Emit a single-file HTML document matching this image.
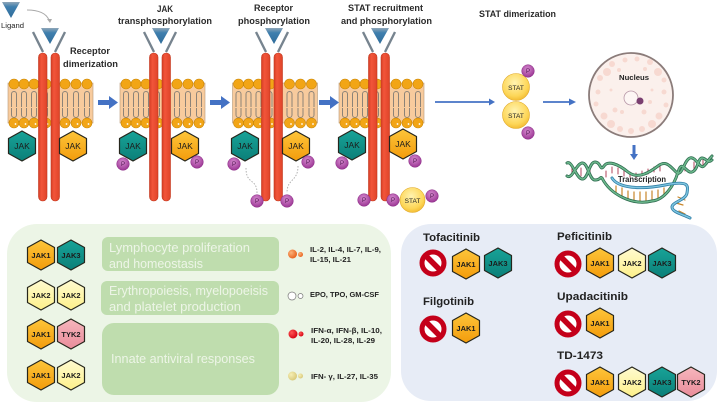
<!DOCTYPE html>
<html><head><meta charset="utf-8">
<style>
html,body{margin:0;padding:0;background:#fff}
svg{display:block;filter:blur(.35px)}
text{font-family:"Liberation Sans",sans-serif;fill:#222}
.b{font-weight:bold}
.t{font-weight:bold;font-size:9px;fill:#2b2b2b}
.h{font-size:7.500px;font-weight:bold;text-anchor:middle;fill:#1c1c1c}
.j{font-size:8.500px;text-anchor:middle;fill:#1c1c1c}
.c{font-weight:bold;font-size:7px;fill:#222}
.g{font-size:12.500px;fill:#edf5e7}
.d{font-weight:bold;font-size:11px;fill:#222}
.p{font-size:6px;text-anchor:middle;fill:#4d164d}
</style></head>
<body>
<svg xmlns="http://www.w3.org/2000/svg" width="719" height="404" viewBox="0 0 719 404">
<defs>
<linearGradient id="or" x1="0" y1="0" x2="0" y2="1"><stop offset="0" stop-color="#fdc53a"/><stop offset="1" stop-color="#f39c0c"/></linearGradient>
<linearGradient id="te" x1="0" y1="0" x2="0" y2="1"><stop offset="0" stop-color="#18a398"/><stop offset="1" stop-color="#0b7f78"/></linearGradient>
<linearGradient id="ye" x1="0" y1="0" x2="0" y2="1"><stop offset="0" stop-color="#fffbd0"/><stop offset="1" stop-color="#fdf08a"/></linearGradient>
<linearGradient id="pi" x1="0" y1="0" x2="0" y2="1"><stop offset="0" stop-color="#f6b6bd"/><stop offset="1" stop-color="#e98c9a"/></linearGradient>
<linearGradient id="lig" x1="0" y1="0" x2="0" y2="1"><stop offset="0" stop-color="#8fa6b8"/><stop offset="0.3" stop-color="#3f7fae"/><stop offset="1" stop-color="#2f6c9a"/></linearGradient>
<radialGradient id="st" cx=".45" cy=".35" r=".7"><stop offset="0" stop-color="#fff3b0"/><stop offset=".7" stop-color="#fdd657"/><stop offset="1" stop-color="#f0b52a"/></radialGradient>
<radialGradient id="pu" cx=".45" cy=".35" r=".7"><stop offset="0" stop-color="#d78ad0"/><stop offset="1" stop-color="#96308f"/></radialGradient>
<linearGradient id="pil" x1="0" y1="0" x2="1" y2="0"><stop offset="0" stop-color="#d63f26"/><stop offset=".35" stop-color="#f2553a"/><stop offset="1" stop-color="#df4429"/></linearGradient>
<radialGradient id="b1" cx=".35" cy=".35" r=".7"><stop offset="0" stop-color="#fbb27a"/><stop offset="1" stop-color="#e8601a"/></radialGradient>
<radialGradient id="b2" cx=".35" cy=".35" r=".7"><stop offset="0" stop-color="#f55"/><stop offset="1" stop-color="#d40010"/></radialGradient>
<radialGradient id="b3" cx=".35" cy=".35" r=".7"><stop offset="0" stop-color="#f6efb5"/><stop offset="1" stop-color="#d8c878"/></radialGradient>

<polygon id="hx" points="0,-15 13.500,-7.500 13.500,7.500 0,15 -13.500,7.500 -13.500,-7.500" stroke="#26261c" stroke-width="1.200" stroke-linejoin="round"/>
<g id="horange"><use href="#hx" fill="url(#or)"/></g>
<g id="hteal"><use href="#hx" fill="url(#te)"/></g>
<g id="hyellow"><use href="#hx" fill="url(#ye)"/></g>
<g id="hpink"><use href="#hx" fill="url(#pi)"/></g>

<g id="no"><circle r="11" fill="#fff" stroke="#c4001a" stroke-width="5"/><line x1="-8" y1="-8" x2="8" y2="8" stroke="#c4001a" stroke-width="5.500"/></g>
<circle id="pb" r="6.300" fill="url(#pu)" stroke="#8b2b86" stroke-width=".5"/>
<polygon id="lg" points="-9,0 9,0 0,16" fill="url(#lig)"/>

<g id="tail" fill="none" stroke="#8c8378" stroke-width="1">
<path d="M-2.500 107V94a2.500 2.500 0 0 1 5 0V107"/>
<path d="M-2.500 108V115a2.500 2.500 0 0 0 5 0V108"/>
</g>
<g id="head">
<circle cy="84" r="5" fill="#f2a516" stroke="#c98605" stroke-width=".6"/>
<circle cy="123" r="5" fill="#f2a516" stroke="#c98605" stroke-width=".6"/>
<circle cx="1.500" cy="124" r=".9" fill="#fff"/>
</g>
<g id="mem">
<rect x="8" y="83" width="85" height="40" fill="#f8cb9d" stroke="#b89a78" stroke-width=".6"/>
<use href="#tail" x="14"/><use href="#tail" x="24"/><use href="#tail" x="34"/><use href="#tail" x="45"/>
<use href="#tail" x="65"/><use href="#tail" x="76"/><use href="#tail" x="87"/>
<use href="#head" x="14"/><use href="#head" x="24"/><use href="#head" x="34"/><use href="#head" x="46"/>
<use href="#head" x="65"/><use href="#head" x="76"/><use href="#head" x="87"/>
</g>
<g id="rec">
<line x1="33" y1="32" x2="43" y2="52" stroke="#77848f" stroke-width="2.400"/>
<line x1="65" y1="32" x2="55" y2="52" stroke="#77848f" stroke-width="2.400"/>
<rect x="38.500" y="53" width="8.500" height="148" rx="4.200" fill="url(#pil)" stroke="#c2381f" stroke-width=".6"/>
<rect x="51" y="53" width="8.500" height="148" rx="4.200" fill="url(#pil)" stroke="#c2381f" stroke-width=".6"/>
</g>
<g id="chev" fill="#4472c4"><path d="M0 -2.500H11V-6.500L20 0L11 6.500V2.500H0Z"/></g>
</defs>

<rect width="719" height="404" fill="#fff"/>

<use href="#lg" x="11" y="2"/>
<text x="1" y="28" font-size="7" fill="#444" textLength="23" lengthAdjust="spacingAndGlyphs">Ligand</text>
<path d="M27 10C38 10 46 13 49 20" fill="none" stroke="#aaa" stroke-width="1"/>
<polygon points="47,19 52,19 50,23" fill="#aaa"/>

<use href="#mem"/><use href="#mem" x="112"/><use href="#mem" x="224.500"/><use href="#mem" x="331"/>
<use href="#rec"/><use href="#rec" x="111"/><use href="#rec" x="223"/><use href="#rec" x="330"/>
<use href="#lg" x="50" y="28"/><use href="#lg" x="161" y="28"/><use href="#lg" x="274" y="28"/><use href="#lg" x="380" y="28"/>

<text class="t" x="70" y="54" textLength="40" lengthAdjust="spacingAndGlyphs">Receptor</text>
<text class="t" x="63" y="67" textLength="55" lengthAdjust="spacingAndGlyphs">dimerization</text>
<text class="t" x="157" y="12" textLength="16" lengthAdjust="spacingAndGlyphs">JAK</text>
<text class="t" x="118" y="24" textLength="94" lengthAdjust="spacingAndGlyphs">transphosphorylation</text>
<text class="t" x="254" y="11" textLength="39" lengthAdjust="spacingAndGlyphs">Receptor</text>
<text class="t" x="238" y="24" textLength="72" lengthAdjust="spacingAndGlyphs">phosphorylation</text>
<text class="t" x="348" y="11" textLength="75" lengthAdjust="spacingAndGlyphs">STAT recruitment</text>
<text class="t" x="341" y="24" textLength="91" lengthAdjust="spacingAndGlyphs">and phosphorylation</text>
<text class="t" x="479" y="17" textLength="77" lengthAdjust="spacingAndGlyphs">STAT dimerization</text>

<use href="#hteal" x="22" y="146"/><text class="j" x="22" y="149">JAK</text>
<use href="#horange" x="73" y="146"/><text class="j" x="73" y="149">JAK</text>
<use href="#hteal" x="133" y="146"/><text class="j" x="133" y="149">JAK</text>
<use href="#horange" x="185" y="146"/><text class="j" x="185" y="149">JAK</text>
<use href="#hteal" x="245" y="146"/><text class="j" x="245" y="149">JAK</text>
<use href="#horange" x="296" y="146"/><text class="j" x="296" y="149">JAK</text>
<use href="#hteal" x="352" y="145"/><text class="j" x="352" y="148">JAK</text>
<use href="#horange" x="403" y="144"/><text class="j" x="403" y="147">JAK</text>

<path d="M246 168C246 185 257 178 257 193" fill="none" stroke="#aaa" stroke-width=".9" stroke-dasharray="1.500 1.500"/>
<path d="M298 166C298 182 287 178 287 193" fill="none" stroke="#aaa" stroke-width=".9" stroke-dasharray="1.500 1.500"/>

<use href="#pb" x="123" y="164"/><text class="p" x="123" y="166">P</text>
<use href="#pb" x="197" y="162"/><text class="p" x="197" y="164">P</text>
<use href="#pb" x="234" y="164"/><text class="p" x="234" y="166">P</text>
<use href="#pb" x="308" y="162"/><text class="p" x="308" y="164">P</text>
<use href="#pb" x="257" y="201"/><text class="p" x="257" y="203">P</text>
<use href="#pb" x="287" y="201"/><text class="p" x="287" y="203">P</text>
<use href="#pb" x="342" y="163"/><text class="p" x="342" y="165">P</text>
<use href="#pb" x="415" y="161"/><text class="p" x="415" y="163">P</text>
<use href="#pb" x="364" y="200"/><text class="p" x="364" y="202">P</text>
<use href="#pb" x="393" y="200"/><text class="p" x="393" y="202">P</text>
<circle cx="412.500" cy="200" r="12.500" fill="url(#st)" stroke="#e0a92a" stroke-width=".6"/>
<text x="412.500" y="203" font-size="6.500" text-anchor="middle" fill="#444">STAT</text>
<use href="#pb" x="432" y="196"/><text class="p" x="432" y="198">P</text>

<use href="#chev" x="98" y="102.500"/><use href="#chev" x="210" y="102.500"/><use href="#chev" x="319" y="102.500"/>
<g fill="#4472c4" stroke="#4472c4">
<line x1="435" y1="102" x2="491" y2="102" stroke-width="1.800"/><polygon points="489,98.500 495,102 489,105.500" stroke="none"/>
<line x1="543" y1="102" x2="571" y2="102" stroke-width="1.800"/><polygon points="569,98.500 576,102 569,105.500" stroke="none"/>
<line x1="634" y1="145" x2="634" y2="155" stroke-width="3"/><polygon points="630,154 638,154 634,160" stroke="none"/>
</g>

<circle cx="516" cy="87" r="13.500" fill="url(#st)" stroke="#e0a92a" stroke-width=".6"/>
<circle cx="516" cy="115" r="13.500" fill="url(#st)" stroke="#e0a92a" stroke-width=".6"/>
<text x="516" y="90" font-size="6.500" text-anchor="middle" fill="#444">STAT</text>
<text x="516" y="118" font-size="6.500" text-anchor="middle" fill="#444">STAT</text>
<use href="#pb" x="528" y="71"/><text class="p" x="528" y="73">P</text>
<use href="#pb" x="528" y="133"/><text class="p" x="528" y="135">P</text>

<circle cx="631" cy="95" r="42" fill="#fbf0ec" stroke="#8b7c7a" stroke-width="1.800"/>
<g fill="#f6d2c8" opacity=".75">
<circle cx="607" cy="72" r="4"/><circle cx="600" cy="78" r="3"/><circle cx="612" cy="64" r="3"/><circle cx="619" cy="70" r="2"/>
<circle cx="650" cy="62" r="3"/><circle cx="658" cy="72" r="4"/><circle cx="645" cy="69" r="2"/><circle cx="664" cy="80" r="2.500"/>
<circle cx="598" cy="92" r="2.500"/><circle cx="664" cy="92" r="2.500"/><circle cx="615" cy="110" r="2.500"/><circle cx="644" cy="112" r="2.500"/>
<circle cx="604" cy="116" r="3.500"/><circle cx="611" cy="124" r="4"/><circle cx="620" cy="129" r="3"/><circle cx="631" cy="131" r="3"/><circle cx="642" cy="129" r="3"/><circle cx="652" cy="124" r="4"/><circle cx="659" cy="116" r="3.500"/>
<circle cx="625" cy="60" r="2.500"/><circle cx="637" cy="59" r="2.500"/><circle cx="596" cy="104" r="2.500"/><circle cx="666" cy="105" r="2.500"/>
<circle cx="622" cy="112" r="2"/><circle cx="611" cy="90" r="1.500"/><circle cx="652" cy="90" r="1.500"/><circle cx="650" cy="102" r="2"/>
</g>
<circle cx="631" cy="98" r="7" fill="#fdf6f4" stroke="#b898a8" stroke-width=".8"/>
<circle cx="640" cy="101" r="3.500" fill="#7a3f70"/>
<text x="619" y="80" font-size="7.500" class="b" textLength="30" lengthAdjust="spacingAndGlyphs">Nucleus</text>

<g fill="none" stroke-linecap="round">
<g stroke-width="1.100" stroke="#b8556a">
<path d="M606 171v6M612 167v6M618 168v6M624 170v6M630 172v5M636 173v5M642 171v5M648 169v5M654 167v5M660 166v5"/>
<path d="M572 165v8M581 168v8M590 167v8M685 163v8M694 162v8M703 160v6"/>
</g>
<g stroke-width="1.200" stroke="#c8862a">
<path d="M616 186v7M622 188v8M628 191v8M634 192v9M640 192v9M646 192v9M652 191v9M658 190v8M664 188v6"/>
<path d="M678 197l7 3M676 203l7 2M679 211l6 3"/>
</g>
<path d="M567 163C572 160 576 178 582 179S589 162 595 162S600 172 604 166S618 164 628 172S650 172 658 166S670 166 676 172S684 160 690 158S700 170 704 166S708 160 712 156" stroke="#2c6a4e" stroke-width="3"/>
<path d="M567 176C572 180 576 164 582 163S589 180 595 180S600 176 602 178C610 194 632 206 652 201C664 200 674 186 678 172S686 174 692 172S698 158 702 158S708 164 712 160" stroke="#2c6a4e" stroke-width="3"/>
<path d="M567 163C572 160 576 178 582 179S589 162 595 162S600 172 604 166S618 164 628 172S650 172 658 166S670 166 676 172S684 160 690 158S700 170 704 166S708 160 712 156" stroke="#6cb88c" stroke-width="1.500"/>
<path d="M567 176C572 180 576 164 582 163S589 180 595 180S600 176 602 178C610 194 632 206 652 201C664 200 674 186 678 172S686 174 692 172S698 158 702 158S708 164 712 160" stroke="#6cb88c" stroke-width="1.500"/>
<path d="M612 178C618 188 640 190 665 185S688 186 687 193S672 202 672 207S682 214 690 218" stroke="#2f7ea6" stroke-width="3"/>
<path d="M612 178C618 188 640 190 665 185S688 186 687 193S672 202 672 207S682 214 690 218" stroke="#7fc6e0" stroke-width="1.400"/>
</g>
<text x="618" y="182" font-size="8" class="b" textLength="48" lengthAdjust="spacingAndGlyphs">Transcription</text>

<rect x="7" y="224" width="384" height="178" rx="30" fill="#ecf5e6"/>
<rect x="102" y="237" width="177" height="34" rx="6" fill="#bfddae"/>
<rect x="101" y="281" width="178" height="34" rx="6" fill="#bfddae"/>
<rect x="102" y="323" width="177" height="72" rx="12" fill="#bfddae"/>
<text class="g" x="109" y="252" textLength="141" lengthAdjust="spacingAndGlyphs">Lymphocyte proliferation</text>
<text class="g" x="109" y="268" textLength="94" lengthAdjust="spacingAndGlyphs">and homeostasis</text>
<text class="g" x="109" y="295" textLength="159" lengthAdjust="spacingAndGlyphs">Erythropoiesis, myelopoeisis</text>
<text class="g" x="109" y="311" textLength="132" lengthAdjust="spacingAndGlyphs">and platelet production</text>
<text class="g" x="111" y="363" textLength="144" lengthAdjust="spacingAndGlyphs">Innate antiviral responses</text>

<use href="#horange" x="41" y="255"/><text class="h" x="41" y="258">JAK1</text>
<use href="#hteal" x="71" y="255"/><text class="h" x="71" y="258">JAK3</text>
<use href="#hyellow" x="41" y="295"/><text class="h" x="41" y="298">JAK2</text>
<use href="#hyellow" x="71" y="295"/><text class="h" x="71" y="298">JAK2</text>
<use href="#horange" x="41" y="334"/><text class="h" x="41" y="337">JAK1</text>
<use href="#hpink" x="71" y="334"/><text class="h" x="71" y="337">TYK2</text>
<use href="#horange" x="41" y="375"/><text class="h" x="41" y="378">JAK1</text>
<use href="#hyellow" x="71" y="375"/><text class="h" x="71" y="378">JAK2</text>

<circle cx="292.500" cy="254" r="4.500" fill="url(#b1)"/><circle cx="300.500" cy="254.500" r="2.500" fill="url(#b1)"/>
<circle cx="292" cy="296" r="4" fill="#fff" stroke="#777" stroke-width=".7"/><circle cx="300.500" cy="296" r="2.500" fill="#fff" stroke="#777" stroke-width=".7"/>
<circle cx="293" cy="334" r="4.500" fill="url(#b2)"/><circle cx="301" cy="334" r="2.500" fill="url(#b2)"/>
<circle cx="292.500" cy="376" r="4.500" fill="url(#b3)"/><circle cx="300.500" cy="376" r="2.500" fill="url(#b3)"/>

<text class="c" x="310" y="252" textLength="71" lengthAdjust="spacingAndGlyphs">IL-2, IL-4, IL-7, IL-9,</text>
<text class="c" x="310" y="262" textLength="41" lengthAdjust="spacingAndGlyphs">IL-15, IL-21</text>
<text class="c" x="310" y="297" textLength="69" lengthAdjust="spacingAndGlyphs">EPO, TPO, GM-CSF</text>
<text class="c" x="311" y="333" textLength="71" lengthAdjust="spacingAndGlyphs">IFN-α, IFN-β, IL-10,</text>
<text class="c" x="311" y="343" textLength="64" lengthAdjust="spacingAndGlyphs">IL-20, IL-28, IL-29</text>
<text class="c" x="311" y="379" textLength="67" lengthAdjust="spacingAndGlyphs">IFN- γ, IL-27, IL-35</text>

<rect x="401" y="224" width="316" height="177" rx="30" fill="#e7ecf6"/>
<text class="d" x="423" y="241" textLength="57" lengthAdjust="spacingAndGlyphs">Tofacitinib</text>
<text class="d" x="557" y="240" textLength="55" lengthAdjust="spacingAndGlyphs">Peficitinib</text>
<text class="d" x="423" y="305" textLength="51" lengthAdjust="spacingAndGlyphs">Filgotinib</text>
<text class="d" x="557" y="300" textLength="71" lengthAdjust="spacingAndGlyphs">Upadacitinib</text>
<text class="d" x="557" y="359" textLength="46" lengthAdjust="spacingAndGlyphs">TD-1473</text>

<use href="#no" x="433" y="263"/><use href="#no" x="568" y="264"/><use href="#no" x="433" y="329"/><use href="#no" x="568" y="324"/><use href="#no" x="568" y="383"/>

<use href="#horange" x="466" y="264"/><text class="h" x="466" y="267">JAK1</text>
<use href="#hteal" x="498" y="263"/><text class="h" x="498" y="266">JAK3</text>
<use href="#horange" x="466" y="328"/><text class="h" x="466" y="331">JAK1</text>
<use href="#horange" x="600" y="263"/><text class="h" x="600" y="266">JAK1</text>
<use href="#hyellow" x="632" y="263"/><text class="h" x="632" y="266">JAK2</text>
<use href="#hteal" x="662" y="263"/><text class="h" x="662" y="266">JAK3</text>
<use href="#horange" x="600" y="323"/><text class="h" x="600" y="326">JAK1</text>
<use href="#horange" x="600" y="382"/><text class="h" x="600" y="385">JAK1</text>
<use href="#hyellow" x="632" y="382"/><text class="h" x="632" y="385">JAK2</text>
<use href="#hteal" x="662" y="382"/><text class="h" x="662" y="385">JAK3</text>
<use href="#hpink" x="691" y="382"/><text class="h" x="691" y="385">TYK2</text>
</svg>
</body></html>
